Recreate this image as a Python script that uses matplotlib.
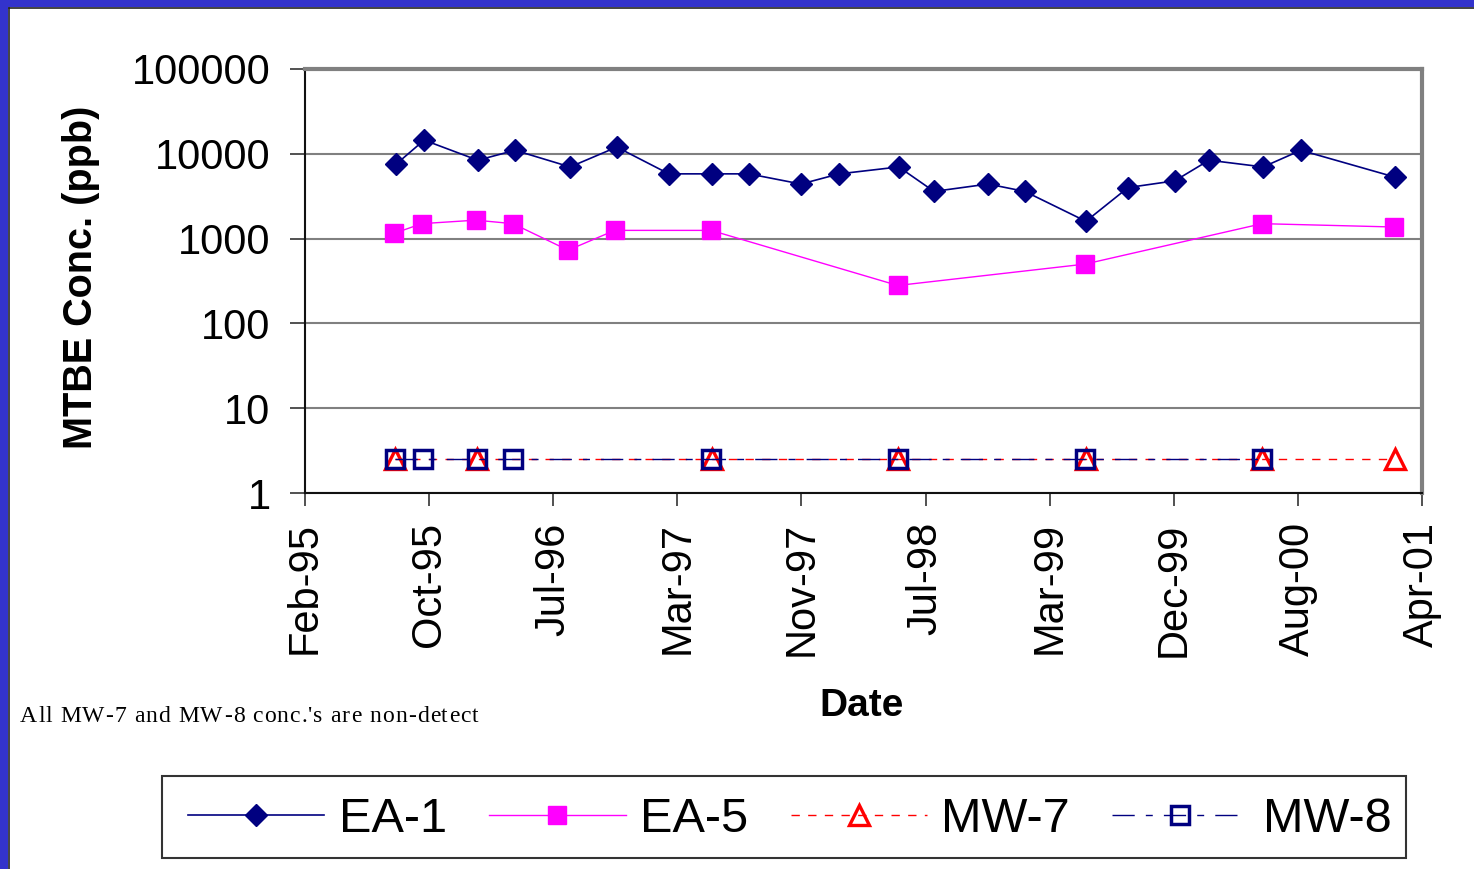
import matplotlib
matplotlib.use("Agg")
import matplotlib.pyplot as plt
from matplotlib.patches import Rectangle
from matplotlib.lines import Line2D
import datetime as dt

plt.rcParams['font.family'] = ['Liberation Sans', 'DejaVu Sans']

# ---- data ----
ea1_dates = ["1995-08-22", "1995-10-18", "1996-02-03", "1996-04-18", "1996-08-07",
             "1996-11-09", "1997-02-22", "1997-05-20", "1997-08-02", "1997-11-15",
             "1998-01-31", "1998-05-31", "1998-08-10", "1998-11-27", "1999-02-09",
             "1999-06-12", "1999-09-05", "1999-12-08", "2000-02-15", "2000-06-03",
             "2000-08-18", "2001-02-24"]
ea1_vals = [7500, 14500, 8400, 11000, 7000, 12000, 5800, 5800, 5800, 4400,
            5800, 7000, 3600, 4400, 3600, 1600, 4000, 4800, 8400, 7000, 11000, 5300]

ea5_dates = ["1995-08-18", "1995-10-13", "1996-01-30", "1996-04-14", "1996-08-03",
             "1996-11-05", "1997-05-18", "1998-05-29", "1999-06-10", "2000-06-01",
             "2001-02-22"]
ea5_vals = [1150, 1500, 1650, 1500, 730, 1250, 1250, 280, 500, 1500, 1370]

mw7_dates = ["1995-08-20", "1996-02-01", "1997-05-20", "1998-05-29", "1999-06-12",
             "2000-06-01", "2001-02-24"]
mw7_vals = [2.5, 2.5, 2.5, 2.5, 2.5, 2.5, 2.5]

mw8_dates = ["1995-08-20", "1995-10-15", "1996-02-01", "1996-04-14", "1997-05-18",
             "1998-05-29", "1999-06-10", "2000-06-01"]
mw8_vals = [2.5, 2.5, 2.5, 2.5, 2.5, 2.5, 2.5, 2.5]

y_ticks = [1, 10, 100, 1000, 10000, 100000]
y_tick_labels = ["1", "10", "100", "1000", "10000", "100000"]
x_start = "1995-02-20"
x_step_days = 250
x_n_ticks = 10
note_text = "All MW-7 and MW-8 conc.'s are non-detect"

def to_dt(lst):
    return [dt.datetime.strptime(s, "%Y-%m-%d") for s in lst]

W, H = 1474, 869
fig = plt.figure(figsize=(W / 100, H / 100), dpi=100)
fig.patch.set_facecolor("white")

# slide border (blue top and left)
fig.patches.append(Rectangle((0, 1 - 7 / H), 1, 7 / H, transform=fig.transFigure,
                             facecolor="#3333CC", edgecolor="none", zorder=0))
fig.patches.append(Rectangle((0, 0), 8 / W, 1, transform=fig.transFigure,
                             facecolor="#3333CC", edgecolor="none", zorder=0))
fig.lines.append(Line2D([8.5 / W, 1], [1 - 7.5 / H, 1 - 7.5 / H], transform=fig.transFigure,
                        color="#222222", lw=1.2))
fig.lines.append(Line2D([8.5 / W, 8.5 / W], [0, 1 - 7.5 / H], transform=fig.transFigure,
                        color="#222222", lw=1.2))

left, right, top, bottom = 305 / W, 1422 / W, 69 / H, 493 / H
ax = fig.add_axes([left, 1 - bottom, right - left, bottom - top])

ax.plot(to_dt(ea1_dates), ea1_vals, color="#000080", lw=1.2, marker="D",
        markersize=11.5, markerfacecolor="#000080", markeredgecolor="#000080",
        label="EA-1", zorder=5)
ax.plot(to_dt(ea5_dates), ea5_vals, color="#FF00FF", lw=1.0, marker="s",
        markersize=12.5, markerfacecolor="#FF00FF", markeredgecolor="#FF00FF",
        label="EA-5", zorder=4)
ax.plot(to_dt(mw7_dates), mw7_vals, color="#FF0000", lw=1.0, linestyle=(0, (6, 6)),
        marker="^", markersize=14, markerfacecolor="none", markeredgecolor="#FF0000",
        markeredgewidth=2.4, label="MW-7", zorder=4)
ax.plot(to_dt(mw8_dates), mw8_vals, color="#000080", lw=1.0,
        linestyle=(0, (16, 8, 5, 8)), marker="s", markersize=13,
        markerfacecolor="none", markeredgecolor="#000080", markeredgewidth=2.5,
        label="MW-8", zorder=5)

ax.set_yscale("log")
ax.set_ylim(1, 100000)
ax.set_yticks(y_ticks)
ax.set_yticklabels(y_tick_labels)
ax.yaxis.set_minor_locator(matplotlib.ticker.NullLocator())

x0 = dt.datetime.strptime(x_start, "%Y-%m-%d")
xticks = [x0 + dt.timedelta(days=x_step_days * i) for i in range(x_n_ticks)]
ax.set_xlim(xticks[0], xticks[-1])
ax.set_xticks(xticks)
ax.set_xticklabels([t.strftime("%b-%y") for t in xticks], rotation=90)

ax.grid(axis="y", color="#808080", lw=1.5)
ax.set_axisbelow(True)

for s in ["top", "right"]:
    ax.spines[s].set_color("#808080")
    ax.spines[s].set_linewidth(3)
for s in ["left", "bottom"]:
    ax.spines[s].set_color("#111111")
    ax.spines[s].set_linewidth(1.5)

ax.tick_params(axis="y", direction="out", length=10.8, width=1.2, color="#333333",
               labelsize=30, pad=14)
ax.tick_params(axis="x", direction="out", length=9, width=1.2, color="#333333",
               labelsize=30, pad=12)

ax.set_ylabel("MTBE Conc. (ppb)", fontsize=28.5, fontweight="bold")
ax.yaxis.set_label_coords(100 / W, 1 - 277 / H, transform=fig.transFigure)

fig.text(862 / W, 1 - 706 / H, "Date", fontsize=28, fontweight="bold",
         ha="center", va="center")

# note with wide letter spacing (drawn piecewise)
fig.canvas.draw()
renderer = fig.canvas.get_renderer()
xpos = 20.0
tracking = 1.05
for ch in note_text:
    t = fig.text(xpos / W, 1 - 722 / H, ch, family=["Liberation Serif", "DejaVu Serif"],
                 fontsize=17, ha="left", va="baseline")
    if ch == " ":
        w = 17 * 100 / 72 * 0.25
    else:
        w = t.get_window_extent(renderer).width
    xpos += w + tracking

handles, labels = ax.get_legend_handles_labels()
leg = fig.legend(handles, labels, loc="center", ncol=4,
                 bbox_to_anchor=(790 / W, 1 - 820 / H), bbox_transform=fig.transFigure,
                 fontsize=35, frameon=False,
                 handlelength=2.8, handletextpad=0.3, columnspacing=0.87,
                 borderpad=0.35, markerscale=1.0)
fig.patches.append(Rectangle((162 / W, 1 - 858 / H), (1406 - 162) / W, (858 - 776) / H,
                             transform=fig.transFigure, facecolor="none",
                             edgecolor="#333333", lw=1.5, zorder=3))

fig.savefig("out.png", dpi=100, facecolor=fig.get_facecolor())
